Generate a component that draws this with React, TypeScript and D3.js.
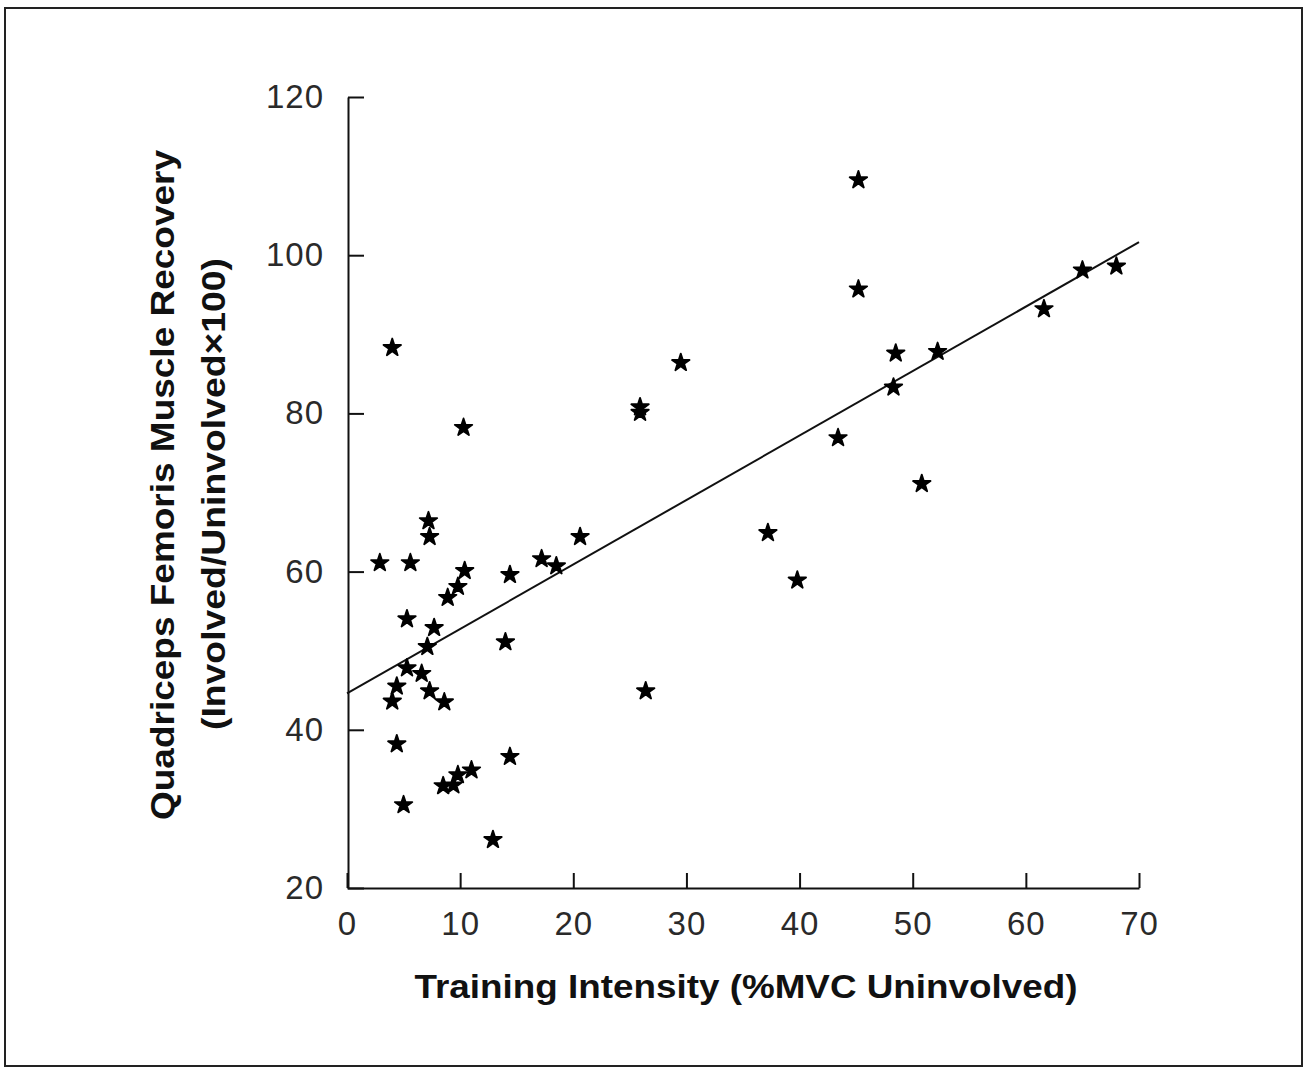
import React, { useEffect, useRef } from 'react';
import * as d3 from 'd3';

// training intensity (%MVC uninvolved) and recovery (involved/uninvolved x100)
const intensity = [
  4.0, 10.3, 7.2, 7.3, 2.9, 5.6, 10.4, 9.8, 8.9, 5.3, 7.7, 14.0, 7.1, 5.3, 6.6, 4.4,
  7.3, 4.0, 8.6, 4.4, 14.4, 11.0, 9.8, 9.4, 8.5, 5.0, 12.9, 14.4, 17.2, 18.5, 20.6,
  26.4, 25.9, 25.9, 29.5, 37.2, 39.8, 43.4, 45.2, 45.2, 48.3, 48.5, 52.2, 50.8, 61.6,
  65.0, 68.0,
];
const recovery = [
  88.3, 78.2, 66.4, 64.4, 61.1, 61.1, 60.1, 58.1, 56.7, 54.0, 52.9, 51.1, 50.5, 47.8,
  47.1, 45.5, 44.9, 43.6, 43.5, 38.2, 36.6, 34.9, 34.3, 33.0, 32.9, 30.5, 26.1, 59.6,
  61.6, 60.7, 64.4, 44.9, 80.8, 80.1, 86.4, 64.9, 58.9, 76.9, 109.5, 95.7, 83.3, 87.6,
  87.8, 71.1, 93.2, 98.1, 98.6,
];
const xTicks = [0, 10, 20, 30, 40, 50, 60, 70];
const yTicks = [20, 40, 60, 80, 100, 120];
// regression line
const fitIntercept = 44.6;
const fitSlope = 0.815;

const FONT = '"Liberation Sans", Arial, Helvetica, sans-serif';

export default function App() {
  const ref = useRef<SVGSVGElement>(null);

  useEffect(() => {
    const svg = d3.select(ref.current);
    svg.selectAll('*').remove();

    const width = 1313;
    const height = 1070;

    const x = d3.scaleLinear().domain([0, 70]).range([347, 1139]);
    const y = d3.scaleLinear().domain([20, 120]).range([888, 97]);

    svg.append('rect').attr('width', width).attr('height', height).attr('fill', '#fff');

    // outer frame
    svg.append('rect')
      .attr('x', 5).attr('y', 8)
      .attr('width', 1297).attr('height', 1058)
      .attr('fill', 'none')
      .attr('stroke', '#222')
      .attr('stroke-width', 2);

    // x axis, ticks pointing up
    const xAxis = svg.append('g')
      .attr('transform', `translate(0,${y(20)})`)
      .call(d3.axisBottom(x).tickValues(xTicks).tickSizeInner(-15).tickSizeOuter(0).tickPadding(24));
    xAxis.select('.domain').attr('stroke', '#111').attr('stroke-width', 2);
    xAxis.selectAll('.tick line').attr('stroke', '#111').attr('stroke-width', 2);
    xAxis.selectAll('.tick text')
      .attr('font-family', FONT).attr('font-size', 33).attr('fill', '#2a2a2a')
      .attr('letter-spacing', 1);

    // y axis, ticks pointing right
    const yAxis = svg.append('g')
      .attr('transform', `translate(${x(0) + 1},0)`)
      .call(d3.axisLeft(y).tickValues(yTicks).tickSizeInner(-16).tickSizeOuter(0).tickPadding(24));
    yAxis.select('.domain').attr('stroke', '#111').attr('stroke-width', 2);
    yAxis.selectAll('.tick line').attr('stroke', '#111').attr('stroke-width', 2);
    yAxis.selectAll('.tick text')
      .attr('font-family', FONT).attr('font-size', 33).attr('fill', '#2a2a2a')
      .attr('letter-spacing', 1);

    // regression line
    const line = d3.line<number>()
      .x(d => x(d))
      .y(d => y(fitIntercept + fitSlope * d));
    svg.append('path')
      .attr('d', line([0, 70]))
      .attr('fill', 'none')
      .attr('stroke', '#111')
      .attr('stroke-width', 2);

    // star markers (slightly rounded like the printed ones)
    const star = d3.symbol(d3.symbolStar, 95);
    svg.append('g')
      .selectAll('path')
      .data(d3.range(intensity.length))
      .enter()
      .append('path')
      .attr('transform', i => `translate(${x(intensity[i])},${y(recovery[i])})`)
      .attr('d', star())
      .attr('fill', '#000')
      .attr('stroke', '#000')
      .attr('stroke-width', 1.8)
      .attr('stroke-linejoin', 'round');

    // axis titles
    svg.append('text')
      .attr('x', 746).attr('y', 998)
      .attr('text-anchor', 'middle')
      .attr('font-family', FONT).attr('font-weight', 'bold').attr('font-size', 34)
      .attr('fill', '#111')
      .attr('textLength', 663).attr('lengthAdjust', 'spacingAndGlyphs')
      .text('Training Intensity (%MVC Uninvolved)');

    svg.append('text')
      .attr('transform', 'translate(174,485) rotate(-90)')
      .attr('text-anchor', 'middle')
      .attr('font-family', FONT).attr('font-weight', 'bold').attr('font-size', 34)
      .attr('fill', '#111')
      .attr('textLength', 670).attr('lengthAdjust', 'spacingAndGlyphs')
      .text('Quadriceps Femoris Muscle Recovery');

    svg.append('text')
      .attr('transform', 'translate(225,494) rotate(-90)')
      .attr('text-anchor', 'middle')
      .attr('font-family', FONT).attr('font-weight', 'bold').attr('font-size', 33)
      .attr('fill', '#111')
      .attr('textLength', 472).attr('lengthAdjust', 'spacingAndGlyphs')
      .text('(Involved/Uninvolved\u00d7100)');
  }, []);

  return (
    <svg
      ref={ref}
      width={1313}
      height={1070}
      style={{ position: 'absolute', left: 0, top: 0, display: 'block' }}
    />
  );
}
